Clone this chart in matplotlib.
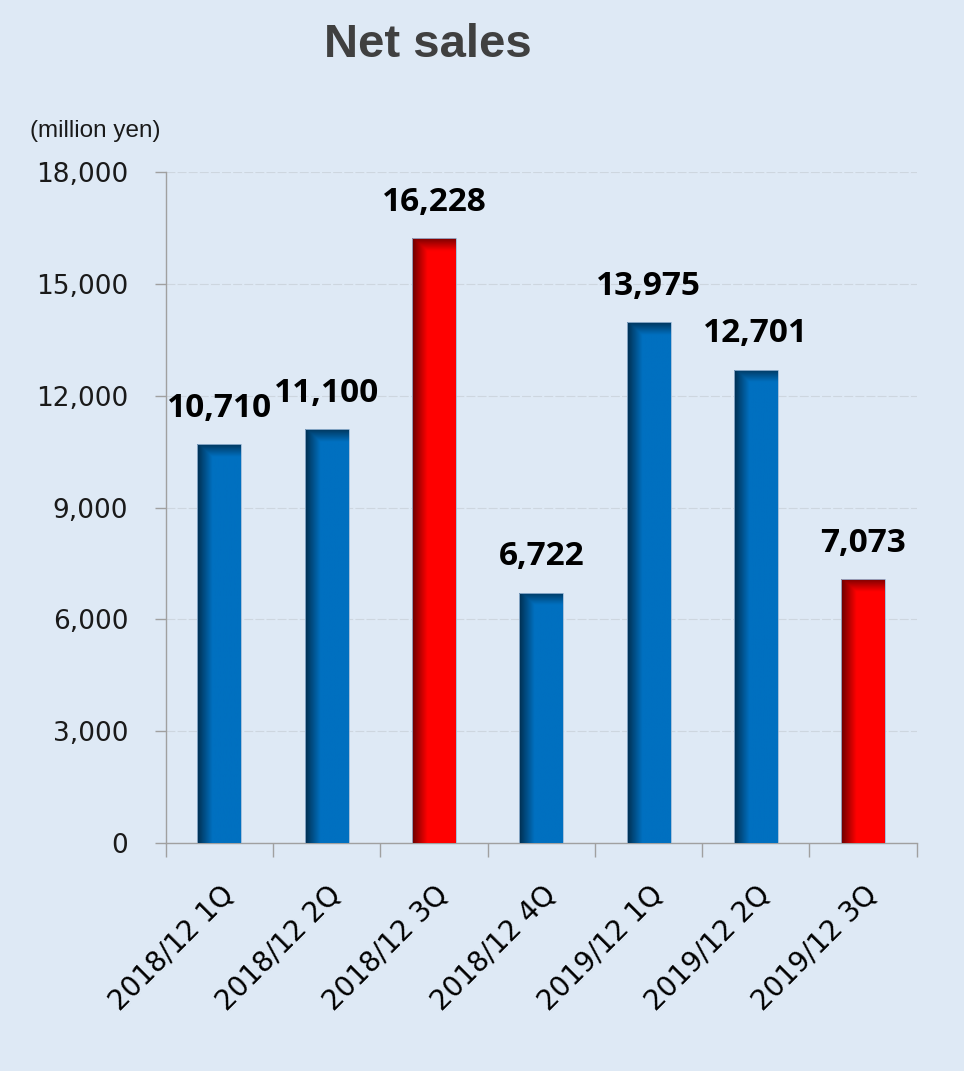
import numpy as np
import matplotlib
matplotlib.use("Agg")
import matplotlib.pyplot as plt
from matplotlib.ticker import FuncFormatter, MultipleLocator, FixedLocator
from matplotlib.colors import to_rgb

# data
categories = ["2018/12 1Q", "2018/12 2Q", "2018/12 3Q", "2018/12 4Q",
              "2019/12 1Q", "2019/12 2Q", "2019/12 3Q"]
net_sales = [10710, 11100, 16228, 6722, 13975, 12701, 7073]
highlight = [False, False, True, False, False, False, True]

BG = "#dee9f5"
BLUE = "#0070c0"
RED = "#ff0000"

fig = plt.figure(figsize=(9.64, 10.71), dpi=100, facecolor=BG)
ax = fig.add_axes([0.172, 0.213, 0.779, 0.626], facecolor=BG)

x = np.arange(len(categories))
width = 0.41
colors = [RED if h else BLUE for h in highlight]
bars = ax.bar(x, net_sales, width=width, color="none", edgecolor="none", zorder=3)

# gradient fill for each bar: darker left edge and top edge
for rect, col in zip(bars, colors):
    x0, w, h = rect.get_x(), rect.get_width(), rect.get_height()
    nx, ny = 60, 400
    xs = np.linspace(0, 1, nx)
    ys = np.linspace(0, h, ny)
    left = np.clip(0.42 + 0.58 * xs / 0.35, 0, 1)
    top_band = 330.0
    top = np.clip(0.5 + 0.5 * (h - ys) / top_band, 0, 1)
    shade = np.minimum(left[None, :], top[:, None])
    base = np.array(to_rgb(col))
    img = shade[:, :, None] * base[None, None, :]
    im = ax.imshow(img, extent=(x0, x0 + w, 0, h), origin="lower",
                   aspect="auto", interpolation="bilinear", zorder=3)
    im.set_clip_path(rect)
    ax.add_patch(plt.Rectangle((x0, 0), w, h, fill=False,
                               edgecolor="#9bb8d6", linewidth=0.6, zorder=4))

# value labels
for xi, v in zip(x, net_sales):
    ax.annotate(f"{v:,}", (xi, v), xytext=(0, 14), textcoords="offset points",
                ha="center", va="bottom", fontsize=24, fontweight="bold",
                family="Open Sans", color="black", zorder=5)

ax.set_xlim(-0.5, len(categories) - 0.5)
ax.set_ylim(0, 18000)
ax.yaxis.set_major_locator(MultipleLocator(3000))
ax.yaxis.set_major_formatter(FuncFormatter(lambda v, p: f"{int(v):,}"))
ax.grid(axis="y", color="#cdd6df", linewidth=0.8, linestyle=(0, (8, 2)), zorder=0)
ax.set_axisbelow(True)

ax.set_xticks(x)
ax.set_xticklabels(categories, rotation=45, ha="right", rotation_mode="anchor",
                   fontsize=20, color="black")
ax.tick_params(axis="x", which="major", length=0, pad=27)
ax.xaxis.set_minor_locator(FixedLocator(np.arange(-0.5, len(categories), 1)))
ax.tick_params(axis="x", which="minor", length=10, color="#a0a0a0", width=1)
ax.tick_params(axis="y", length=8, color="#a0a0a0", width=1, pad=19,
               labelsize=19, labelcolor="#1a1a1a")

for s in ["top", "right"]:
    ax.spines[s].set_visible(False)
for s in ["left", "bottom"]:
    ax.spines[s].set_color("#a0a0a0")
    ax.spines[s].set_linewidth(1)

fig.text(0.444, 0.958, "Net sales", ha="center", va="center", fontsize=34,
         fontweight="bold", color="#404040", family="Liberation Sans")
fig.text(0.099, 0.878, "(million yen)", ha="center", va="center", fontsize=17.5,
         color="#1a1a1a", family="Liberation Sans")

fig.savefig("out.png", dpi=100, facecolor=BG)
